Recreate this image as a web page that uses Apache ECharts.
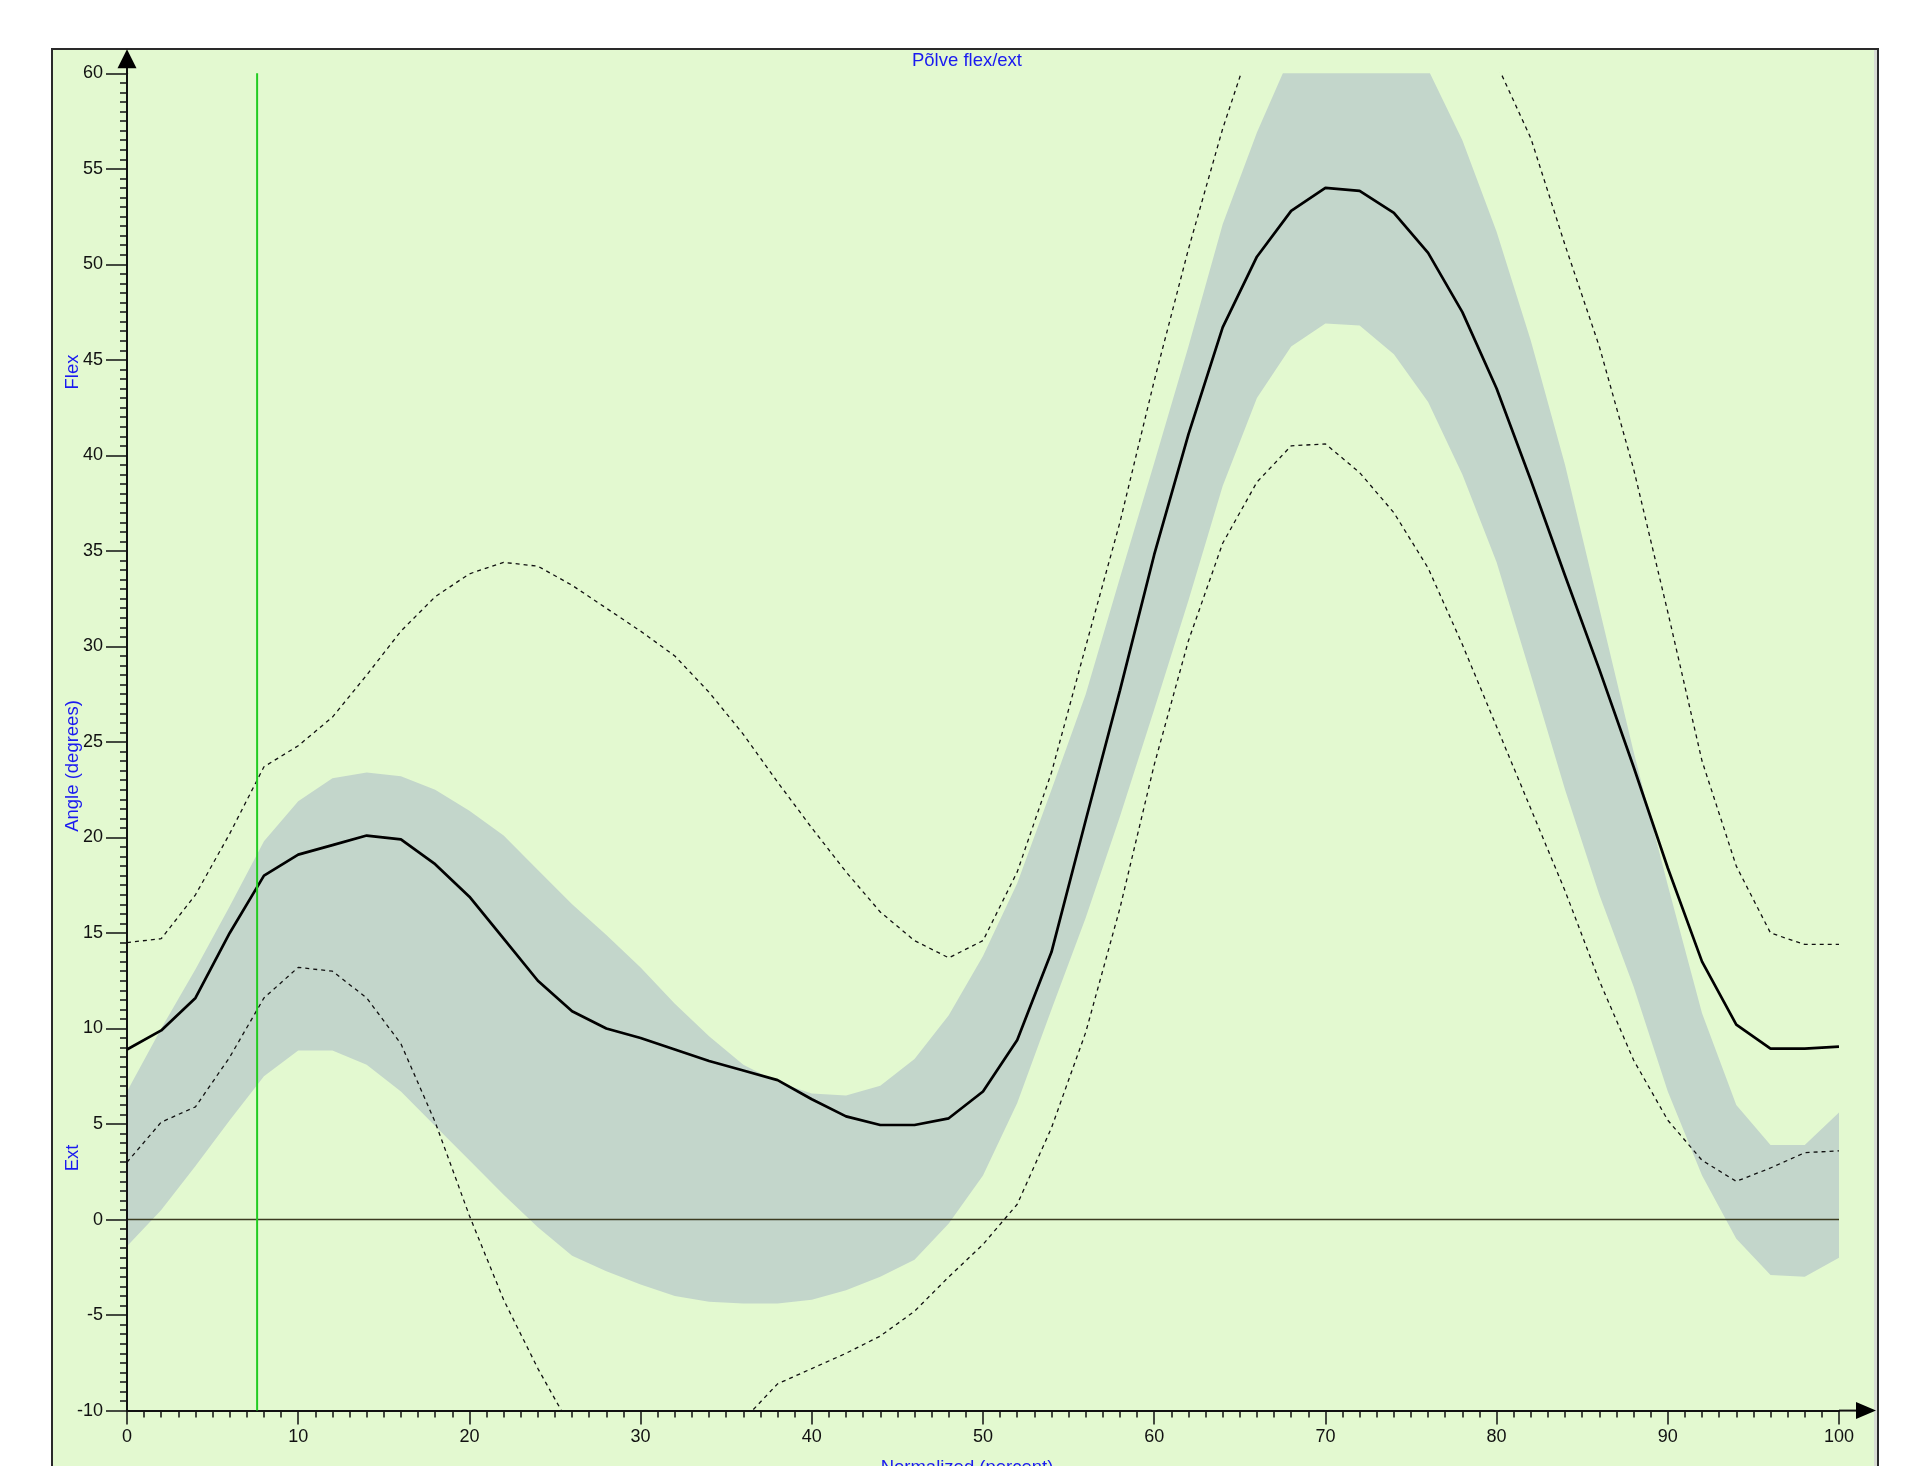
<!DOCTYPE html>
<html>
<head>
<meta charset="utf-8">
<script src="https://cdn.jsdelivr.net/npm/echarts@6/dist/echarts.min.js"></script>
<style>
html,body{margin:0;padding:0;background:#ffffff;overflow:hidden;}
#frame{position:absolute;left:51px;top:48px;width:1824px;height:1440px;background:#e3f9d0;border-top:2px solid #2a2a2a;border-left:2px solid #2a2a2a;border-right:2px solid #2a2a2a;box-shadow:inset -3px 0 0 #d8dcd4;}
#c{position:absolute;left:0;top:0;width:1915px;height:1466px;}
</style>
</head>
<body>
<div id="frame"></div>
<div id="c"></div>
<script>
// ---- data (percent of gait cycle) ----
const pct = [0,2,4,6,8,10,12,14,16,18,20,22,24,26,28,30,32,34,36,38,40,42,44,46,48,50,
             52,54,56,58,60,62,64,66,68,70,72,74,76,78,80,82,84,86,88,90,92,94,96,98,100];

const kneeMean = [8.9,9.9,11.6,15.0,18.0,19.1,19.6,20.1,19.9,18.6,16.9,14.7,12.5,10.9,10.0,9.5,
                  8.9,8.3,7.8,7.3,6.3,5.4,4.95,4.95,5.3,6.7,9.4,14.0,20.9,27.7,34.8,41.1,46.7,
                  50.4,52.8,54.0,53.85,52.7,50.6,47.5,43.5,38.7,33.7,28.8,23.7,18.4,13.5,10.2,
                  8.95,8.95,9.05];

const normUpper = [6.7,10.0,13.1,16.4,19.8,21.9,23.1,23.4,23.2,22.5,21.4,20.1,18.3,16.5,14.9,13.2,
                   11.3,9.6,8.1,7.2,6.6,6.5,7.0,8.4,10.7,13.8,17.6,22.5,27.5,33.6,39.6,45.7,52.1,
                   56.9,61.0,63.5,64.0,62.5,60.2,56.5,51.7,46.0,39.5,32.0,24.5,17.5,10.8,6.0,
                   3.9,3.9,5.6];

const normLower = [-1.4,0.5,2.8,5.2,7.5,8.85,8.85,8.1,6.7,4.9,3.1,1.3,-0.4,-1.9,-2.7,-3.4,
                   -4.0,-4.3,-4.4,-4.4,-4.2,-3.7,-3.0,-2.1,-0.2,2.3,6.1,11.0,15.8,21.1,26.7,32.4,
                   38.4,43.0,45.7,46.9,46.8,45.3,42.8,39.0,34.4,28.5,22.5,17.0,12.2,6.7,2.3,-1.0,
                   -2.9,-3.0,-2.0];

const sdUpper = [14.5,14.7,17.0,20.2,23.7,24.8,26.3,28.5,30.8,32.6,33.8,34.4,34.2,33.2,32.0,30.8,
                 29.5,27.6,25.4,22.9,20.5,18.2,16.1,14.6,13.7,14.6,18.2,23.4,30.0,36.5,43.9,50.8,
                 57.1,62.5,66.0,67.5,67.5,66.0,64.5,62.5,60.5,56.6,51.0,45.7,39.3,31.8,24.0,18.5,
                 15.0,14.4,14.4];

const sdLower = [3.0,5.1,5.9,8.5,11.6,13.2,13.0,11.6,9.2,5.1,0.2,-4.2,-7.8,-11.0,-13.0,-14.0,
                 -13.8,-12.5,-10.5,-8.6,-7.8,-7.0,-6.1,-4.8,-3.0,-1.3,0.8,4.8,9.8,16.3,23.8,30.3,
                 35.4,38.6,40.5,40.6,39.1,37.0,34.1,30.1,25.8,21.5,17.2,12.5,8.35,5.2,3.1,2.0,
                 2.7,3.5,3.6];

const eventPct = [7.6];          // vertical event marker
const zeroLineX = [0, 100];      // reference line at 0 degrees
const yRange = [-10, 60];
const xRange = [0, 100];

const chartTitle = 'Põlve flex/ext';
const xName = 'Normalized (percent)';
const yName = 'Angle (degrees)';
const yTopName = 'Flex';
const yBottomName = 'Ext';

// ---- chart ----
const chart = echarts.init(document.getElementById('c'), null, {renderer: 'canvas'});
const FONT = 'Liberation Sans, Arial, sans-serif';
const BLUE = '#1a1af0';

const zip = (a, b) => a.map((v, i) => [v, b[i]]);

const option = {
  backgroundColor: 'transparent',
  animation: false,
  grid: {left: 127, right: 76, top: 73.3, bottom: 55.4, containLabel: false},
  xAxis: {
    type: 'value', min: xRange[0], max: xRange[1], interval: 10, z: 5,
    axisLine: {show: true, onZero: false, lineStyle: {color: '#111', width: 2}},
    axisTick: {show: true, length: 14, lineStyle: {color: '#111', width: 1.5}},
    minorTick: {show: true, splitNumber: 10, length: 7, lineStyle: {color: '#111', width: 1.5}},
    splitLine: {show: false},
    axisLabel: {color: '#111', fontFamily: FONT, fontSize: 18, margin: 17}
  },
  yAxis: {
    type: 'value', min: yRange[0], max: yRange[1], interval: 5, z: 5,
    axisLine: {show: true, onZero: false, lineStyle: {color: '#111', width: 2}},
    axisTick: {show: true, length: 21, lineStyle: {color: '#111', width: 1.5}},
    minorTick: {show: true, splitNumber: 10, length: 7, lineStyle: {color: '#111', width: 1.5}},
    splitLine: {show: false},
    axisLabel: {color: '#111', fontFamily: FONT, fontSize: 18, margin: 24}
  },
  series: [
    {
      name: 'normal band', type: 'custom', clip: true, z: 1, silent: true,
      encode: {x: 0, y: [1, 2]},
      data: pct.map((p, i) => [p, normUpper[i], normLower[i]]),
      renderItem: function (params, api) {
        if (params.dataIndex !== 0) return null;
        const pts = [];
        for (let i = 0; i < pct.length; i++) pts.push(api.coord([pct[i], normUpper[i]]));
        for (let i = pct.length - 1; i >= 0; i--) pts.push(api.coord([pct[i], normLower[i]]));
        return {type: 'polygon', shape: {points: pts}, style: {fill: '#c3d6cb', stroke: null}};
      }
    },
    {
      name: 'zero', type: 'line', z: 3, symbol: 'none', silent: true,
      data: zeroLineX.map(x => [x, 0]),
      lineStyle: {color: '#3b3b20', width: 1.4}
    },
    {
      name: 'upper', type: 'line', z: 4, symbol: 'none', clip: true, silent: true,
      data: zip(pct, sdUpper),
      lineStyle: {color: '#111', width: 1.3, type: [4, 4]}
    },
    {
      name: 'lower', type: 'line', z: 4, symbol: 'none', clip: true, silent: true,
      data: zip(pct, sdLower),
      lineStyle: {color: '#111', width: 1.3, type: [4, 4]}
    },
    {
      name: 'mean', type: 'line', z: 6, symbol: 'none', clip: true, silent: true,
      data: zip(pct, kneeMean),
      lineStyle: {color: '#000', width: 2.7}
    },
    {
      name: 'event', type: 'line', z: 7, symbol: 'none', silent: true,
      data: [[eventPct[0], yRange[0]], [eventPct[0], yRange[1]]],
      lineStyle: {color: '#22cc22', width: 2}
    }
  ]
};
chart.setOption(option);

// ---- axis arrows and labels positioned from the axes ----
const pTop = chart.convertToPixel({gridIndex: 0}, [xRange[0], yRange[1]]);
const pRight = chart.convertToPixel({gridIndex: 0}, [xRange[1], yRange[0]]);
const midX = 967;
const NAMEFONT = '18.5px ' + FONT;

chart.setOption({
  graphic: [
    {type: 'line', z: 50, shape: {x1: pTop[0], y1: pTop[1], x2: pTop[0], y2: pTop[1] - 6}, style: {stroke: '#111', lineWidth: 2}},
    {type: 'polygon', z: 50, shape: {points: [[pTop[0], pTop[1] - 24], [pTop[0] - 9.5, pTop[1] - 5], [pTop[0] + 9.5, pTop[1] - 5]]}, style: {fill: '#000'}},
    {type: 'line', z: 50, shape: {x1: pRight[0], y1: pRight[1], x2: pRight[0] + 18, y2: pRight[1]}, style: {stroke: '#111', lineWidth: 2}},
    {type: 'polygon', z: 50, shape: {points: [[pRight[0] + 37, pRight[1]], [pRight[0] + 17, pRight[1] - 8.5], [pRight[0] + 17, pRight[1] + 8.5]]}, style: {fill: '#000'}},
    {type: 'text', z: 50, x: midX, y: 61, style: {text: chartTitle, fill: BLUE, font: NAMEFONT, textAlign: 'center', textVerticalAlign: 'middle'}},
    {type: 'text', z: 50, x: midX, y: 1458, style: {text: xName, fill: BLUE, font: NAMEFONT, textAlign: 'center', textVerticalAlign: 'top'}},
    {type: 'text', z: 50, x: 73, y: 372, rotation: Math.PI / 2, style: {text: yTopName, fill: BLUE, font: NAMEFONT, textAlign: 'center', textVerticalAlign: 'middle'}},
    {type: 'text', z: 50, x: 73, y: 766, rotation: Math.PI / 2, style: {text: yName, fill: BLUE, font: NAMEFONT, textAlign: 'center', textVerticalAlign: 'middle'}},
    {type: 'text', z: 50, x: 73, y: 1158, rotation: Math.PI / 2, style: {text: yBottomName, fill: BLUE, font: NAMEFONT, textAlign: 'center', textVerticalAlign: 'middle'}}
  ]
});
</script>
</body>
</html>
